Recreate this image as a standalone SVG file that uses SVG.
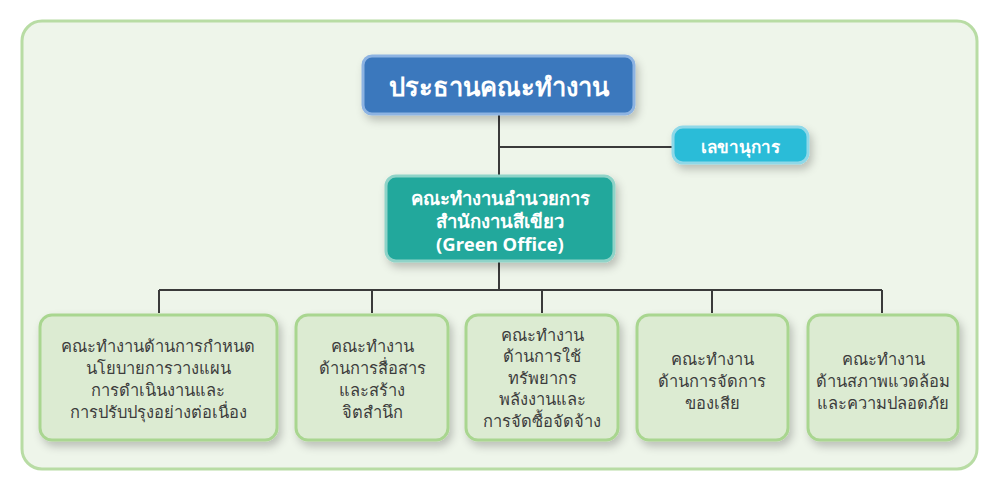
<svg xmlns="http://www.w3.org/2000/svg" width="1000" height="490" viewBox="0 0 1000 490">
<defs>
<filter id="sh" x="-20%" y="-20%" width="150%" height="160%">
<feDropShadow dx="3" dy="5" stdDeviation="4" flood-color="#000" flood-opacity="0.22"/>
</filter>
</defs>
<style>
text{font-family:"Noto Sans","DejaVu Sans",sans-serif;text-anchor:middle;dominant-baseline:central}
.w{fill:#fff;font-weight:bold}
.d{fill:#3d3d3d;font-size:16.5px}
.sub{fill:#dcebd2;stroke:#a9d690;stroke-width:3}
.ln{stroke:#3a3a3a;stroke-width:2;fill:none}
</style>
<rect width="1000" height="490" fill="#ffffff"/>
<rect x="22" y="21" width="955" height="448" rx="20" fill="#eef5ea" stroke="#b8dca4" stroke-width="3"/>
<g id="connectors">
<path class="ln" d="M499 114V176M499 147H673M499 261V290M159 290H882M159 290V313M372 290V313M542 290V313M712 290V313M882 290V313"/>
</g>
<g id="chair">
<rect x="363" y="56" width="271" height="58" rx="9" fill="#3a78bd" stroke="#8db3e2" stroke-width="3" filter="url(#sh)"/>
<text class="w" x="499" y="86" font-size="25.5">ประธานคณะทำงาน</text>
</g>
<g id="secretary">
<rect x="673" y="127" width="135" height="36" rx="10" fill="#2bbcd8" stroke="#8fd8e8" stroke-width="3" filter="url(#sh)"/>
<text class="w" x="740" y="146" font-size="17">เลขานุการ</text>
</g>
<g id="director">
<rect x="386" y="176" width="228" height="85" rx="10" fill="#20a89c" stroke="#8fd3c8" stroke-width="3" filter="url(#sh)"/>
<text class="w" x="500" y="197" font-size="18.5">คณะทำงานอำนวยการ</text>
<text class="w" x="500" y="220" font-size="18.5">สำนักงานสีเขียว</text>
<text class="w" x="500" y="243" font-size="18.5">(Green Office)</text>
</g>
<g id="policy">
<rect class="sub" x="40" y="315" width="237" height="125" rx="12" filter="url(#sh)"/>
<text class="d" x="158" y="345">คณะทำงานด้านการกำหนด</text>
<text class="d" x="158" y="367">นโยบายการวางแผน</text>
<text class="d" x="158" y="389">การดำเนินงานและ</text>
<text class="d" x="158" y="411">การปรับปรุงอย่างต่อเนื่อง</text>
</g>
<g id="communication">
<rect class="sub" x="296" y="315" width="152" height="125" rx="12" filter="url(#sh)"/>
<text class="d" x="372" y="345">คณะทำงาน</text>
<text class="d" x="372" y="367">ด้านการสื่อสาร</text>
<text class="d" x="372" y="389">และสร้าง</text>
<text class="d" x="372" y="411">จิตสำนึก</text>
</g>
<g id="resources">
<rect class="sub" x="466" y="315" width="152" height="125" rx="12" filter="url(#sh)"/>
<text class="d" x="542" y="334">คณะทำงาน</text>
<text class="d" x="542" y="355">ด้านการใช้</text>
<text class="d" x="542" y="377">ทรัพยากร</text>
<text class="d" x="542" y="398">พลังงานและ</text>
<text class="d" x="542" y="420">การจัดซื้อจัดจ้าง</text>
</g>
<g id="waste">
<rect class="sub" x="637" y="315" width="151" height="125" rx="12" filter="url(#sh)"/>
<text class="d" x="712" y="358">คณะทำงาน</text>
<text class="d" x="712" y="380">ด้านการจัดการ</text>
<text class="d" x="712" y="402">ของเสีย</text>
</g>
<g id="environment">
<rect class="sub" x="808" y="315" width="150" height="125" rx="12" filter="url(#sh)"/>
<text class="d" x="883" y="358">คณะทำงาน</text>
<text class="d" x="883" y="380">ด้านสภาพแวดล้อม</text>
<text class="d" x="883" y="402">และความปลอดภัย</text>
</g>
</svg>
